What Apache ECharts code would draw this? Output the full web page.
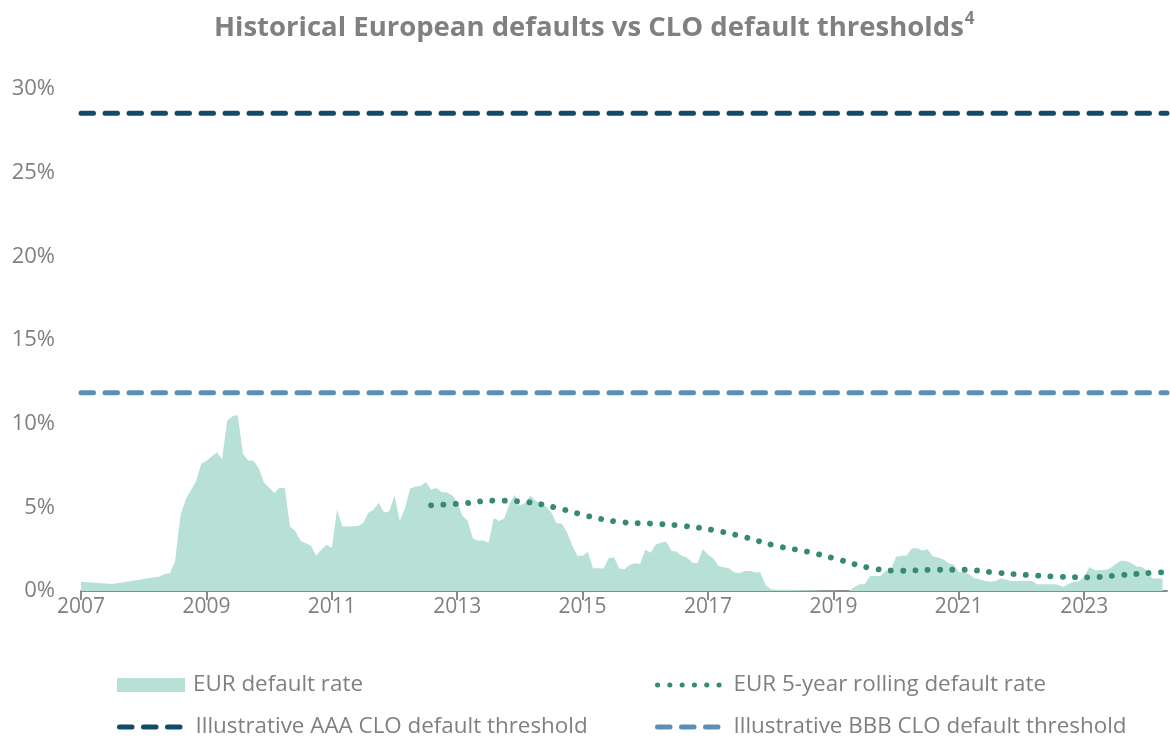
<!DOCTYPE html>
<html>
<head>
<meta charset="utf-8">
<script src="https://cdn.jsdelivr.net/npm/echarts@6/dist/echarts.min.js"></script>
<style>
html,body{margin:0;padding:0;background:#ffffff;}
#chart{width:1170px;height:740px;}
</style>
</head>
<body>
<div id="chart"></div>
<script>
// ---------- DATA ----------
const titleText = 'Historical European defaults vs CLO default thresholds';
const titleNote = '4';

const seriesNames = [
  'EUR default rate',
  'EUR 5-year rolling default rate',
  'Illustrative AAA CLO default threshold',
  'Illustrative BBB CLO default threshold'
];

const xTickYears = [2007, 2009, 2011, 2013, 2015, 2017, 2019, 2021, 2023];
const yTickValues = [0, 5, 10, 15, 20, 25, 30];

// EUR default rate (%), monthly
const defaultMonths = [
  '2007-01','2007-07',
  '2008-04','2008-05','2008-06','2008-07','2008-08','2008-09','2008-10','2008-11','2008-12',
  '2009-01','2009-02','2009-03','2009-04','2009-05','2009-06','2009-07','2009-08','2009-09','2009-10','2009-11','2009-12',
  '2010-01','2010-02','2010-03','2010-04','2010-05','2010-06','2010-07','2010-08','2010-09','2010-10','2010-11','2010-12',
  '2011-01','2011-02','2011-03','2011-04','2011-05','2011-06','2011-07','2011-08','2011-09','2011-10','2011-11','2011-12',
  '2012-01','2012-02','2012-03','2012-04','2012-05','2012-06','2012-07','2012-08','2012-09','2012-10','2012-11','2012-12',
  '2013-01','2013-02','2013-03','2013-04','2013-05','2013-06','2013-07','2013-08','2013-09','2013-10','2013-11','2013-12',
  '2014-01','2014-02','2014-03','2014-04','2014-05','2014-06','2014-07','2014-08','2014-09','2014-10','2014-11','2014-12',
  '2015-01','2015-02','2015-03','2015-04','2015-05','2015-06','2015-07','2015-08','2015-09','2015-10','2015-11','2015-12',
  '2016-01','2016-02','2016-03','2016-04','2016-05','2016-06','2016-07','2016-08','2016-09','2016-10','2016-11','2016-12',
  '2017-01','2017-02','2017-03','2017-04','2017-05','2017-06','2017-07','2017-08','2017-09','2017-10','2017-11','2017-12',
  '2018-01','2018-02','2018-03','2018-04','2018-05','2018-06','2018-07','2018-08','2018-09','2018-10','2018-11','2018-12',
  '2019-01','2019-02','2019-03','2019-04','2019-05','2019-06','2019-07','2019-08','2019-09','2019-10','2019-11','2019-12',
  '2020-01','2020-02','2020-03','2020-04','2020-05','2020-06','2020-07','2020-08','2020-09','2020-10','2020-11','2020-12',
  '2021-01','2021-02','2021-03','2021-04','2021-05','2021-06','2021-07','2021-08','2021-09','2021-10','2021-11','2021-12',
  '2022-01','2022-02','2022-03','2022-04','2022-05','2022-06','2022-07','2022-08','2022-09','2022-10','2022-11','2022-12',
  '2023-01','2023-02','2023-03','2023-04','2023-05','2023-06','2023-07','2023-08','2023-09','2023-10','2023-11','2023-12',
  '2024-01','2024-02','2024-03','2024-04'
];
const defaultRates = [
  0.56, 0.42,
  0.86, 1.02, 1.06, 1.76, 4.45, 5.45, 6.00, 6.54, 7.60,
  7.78, 8.04, 8.28, 7.90, 10.20, 10.44, 10.52, 8.18, 7.80, 7.78, 7.35, 6.49,
  6.19, 5.85, 6.17, 6.15, 3.85, 3.59, 3.01, 2.86, 2.71, 2.10, 2.46, 2.77,
  2.58, 4.85, 3.85, 3.86, 3.87, 3.89, 4.05, 4.68, 4.85, 5.27, 4.69, 4.76,
  5.70, 4.20, 4.95, 6.13, 6.25, 6.27, 6.51, 6.07, 6.15, 5.92, 5.88, 5.72,
  5.35, 4.50, 4.20, 3.13, 3.02, 3.02, 2.88, 4.37, 4.18, 4.33, 5.20, 5.75,
  5.09, 5.27, 5.70, 5.40, 5.25, 5.05, 4.70, 4.05, 4.03, 3.52, 2.72, 2.10,
  2.10, 2.33, 1.36, 1.36, 1.34, 1.97, 2.02, 1.36, 1.30, 1.56, 1.66, 1.62,
  2.46, 2.29, 2.78, 2.89, 2.95, 2.41, 2.35, 2.10, 1.99, 1.69, 1.66, 2.51,
  2.16, 1.96, 1.50, 1.42, 1.36, 1.12, 1.06, 1.20, 1.20, 1.12, 1.12, 0.36,
  0.10, 0.08, 0.08, 0.07, 0.07, 0.06, 0.05, 0.04, 0.04, 0.03, 0.02, 0.02,
  0.01, 0.00, 0.00, 0.02, 0.22, 0.40, 0.42, 0.90, 0.90, 0.90, 1.20, 1.28,
  2.05, 2.10, 2.10, 2.56, 2.56, 2.42, 2.50, 2.08, 2.00, 1.90, 1.66, 1.58,
  1.14, 1.10, 1.00, 0.76, 0.70, 0.62, 0.56, 0.60, 0.74, 0.68, 0.60, 0.60,
  0.60, 0.61, 0.60, 0.41, 0.40, 0.40, 0.40, 0.38, 0.24, 0.42, 0.55, 0.58,
  0.86, 1.43, 1.24, 1.24, 1.26, 1.38, 1.61, 1.81, 1.80, 1.68, 1.46, 1.43,
  1.25, 0.76, 0.75, 0.74
];

// EUR 5-year rolling default rate (%)
const rollingMonths = [
  '2012-08','2013-02','2013-08','2014-02','2014-08','2015-02','2015-08','2016-02','2016-08',
  '2017-02','2017-08','2018-02','2018-08','2019-02','2019-08','2020-02','2020-08','2021-02',
  '2021-08','2022-02','2022-08','2023-02','2023-08','2024-02','2024-04'
];
const rollingRates = [
  5.12, 5.23, 5.40, 5.33, 4.97, 4.48, 4.13, 4.03, 3.90,
  3.64, 3.22, 2.70, 2.35, 1.88, 1.38, 1.21, 1.27, 1.27,
  1.10, 0.96, 0.86, 0.82, 0.95, 1.09, 1.12
];

const aaaThreshold = 28.55;
const bbbThreshold = 11.85;

const xStart = 2007;
const xEnd = 2024.32;

// ---------- CHART ----------
const FONT = "'Open Sans', 'Noto Sans', sans-serif";
const GREY = '#808080';
const toYear = m => { const p = m.split('-'); return +p[0] + (+p[1] - 1) / 12; };

const chart = echarts.init(document.getElementById('chart'), null, {renderer: 'canvas'});

const legendCommon = {
  orient: 'horizontal',
  itemWidth: 68,
  itemHeight: 14,
  padding: 0,
  selectedMode: false,
  textStyle: {fontFamily: FONT, fontSize: 22.4, color: GREY, padding: [0, 0, 0, 3]},
  lineStyle: {width: 5}
};
const hideSymbol = {itemStyle: {color: 'rgba(0,0,0,0)', borderColor: 'rgba(0,0,0,0)', borderWidth: 0}};

const option = {
  animation: false,
  backgroundColor: '#ffffff',
  title: {
    text: '{m|' + titleText + '}{s|' + titleNote + '}',
    left: 214,
    top: 11,
    padding: 0,
    textStyle: {
      rich: {
        m: {fontFamily: FONT, fontSize: 27.5, fontWeight: 'bold', color: GREY, lineHeight: 34},
        s: {fontFamily: FONT, fontSize: 17, fontWeight: 'bold', color: GREY, verticalAlign: 'top', lineHeight: 34, padding: [0, 0, 14, 1]}
      }
    }
  },
  legend: [
    Object.assign({}, legendCommon, {left: 117, top: 674, data: [{name: seriesNames[0], icon: 'rect'}]}),
    Object.assign({}, legendCommon, hideSymbol, {left: 655, top: 674, data: [seriesNames[1]]}),
    Object.assign({}, legendCommon, hideSymbol, {left: 117, top: 716, data: [seriesNames[2]]}),
    Object.assign({}, legendCommon, hideSymbol, {left: 655, top: 716, data: [seriesNames[3]]})
  ],
  grid: {left: 81, right: 3, top: 89, bottom: 149, containLabel: false},
  xAxis: {
    type: 'value',
    min: xStart,
    max: xEnd,
    interval: 2,
    splitLine: {show: false},
    axisLine: {show: true, onZero: false, lineStyle: {color: '#8a8a8a', width: 2}},
    axisTick: {show: true, length: 9, customValues: xTickYears, lineStyle: {color: '#8a8a8a', width: 2}},
    axisLabel: {
      customValues: xTickYears,
      fontFamily: FONT, fontSize: 21, color: GREY, margin: 6,
      formatter: v => String(v)
    }
  },
  yAxis: {
    type: 'value',
    min: 0,
    max: 30,
    interval: 5,
    splitLine: {show: false},
    axisLine: {show: false},
    axisTick: {show: false},
    axisLabel: {
      customValues: yTickValues,
      fontFamily: FONT, fontSize: 22, color: GREY, margin: 26,
      formatter: v => v + '%'
    }
  },
  series: [
    {
      name: seriesNames[0],
      type: 'line',
      symbol: 'none',
      silent: true,
      color: '#b7e1d7',
      lineStyle: {width: 0},
      areaStyle: {color: '#b7e1d7', opacity: 1},
      data: defaultMonths.map((m, i) => [toYear(m), defaultRates[i]]),
      z: 1
    },
    {
      name: seriesNames[1],
      type: 'line',
      symbol: 'none',
      silent: true,
      smooth: 0.4,
      color: '#378a71',
      lineStyle: {color: '#378a71', width: 5.8, type: [0.1, 12.2], cap: 'round'},
      data: rollingMonths.map((m, i) => [toYear(m), rollingRates[i]]),
      z: 3
    },
    {
      name: seriesNames[2],
      type: 'line',
      symbol: 'none',
      silent: true,
      color: '#114b6b',
      lineStyle: {color: '#114b6b', width: 5, type: [12.5, 11.5], cap: 'round'},
      data: [[xStart, aaaThreshold], [xEnd, aaaThreshold]],
      z: 2
    },
    {
      name: seriesNames[3],
      type: 'line',
      symbol: 'none',
      silent: true,
      color: '#5b8fb5',
      lineStyle: {color: '#5b8fb5', width: 5, type: [12.5, 11.5], cap: 'round'},
      data: [[xStart, bbbThreshold], [xEnd, bbbThreshold]],
      z: 2
    }
  ]
};

chart.setOption(option);
</script>
</body>
</html>
